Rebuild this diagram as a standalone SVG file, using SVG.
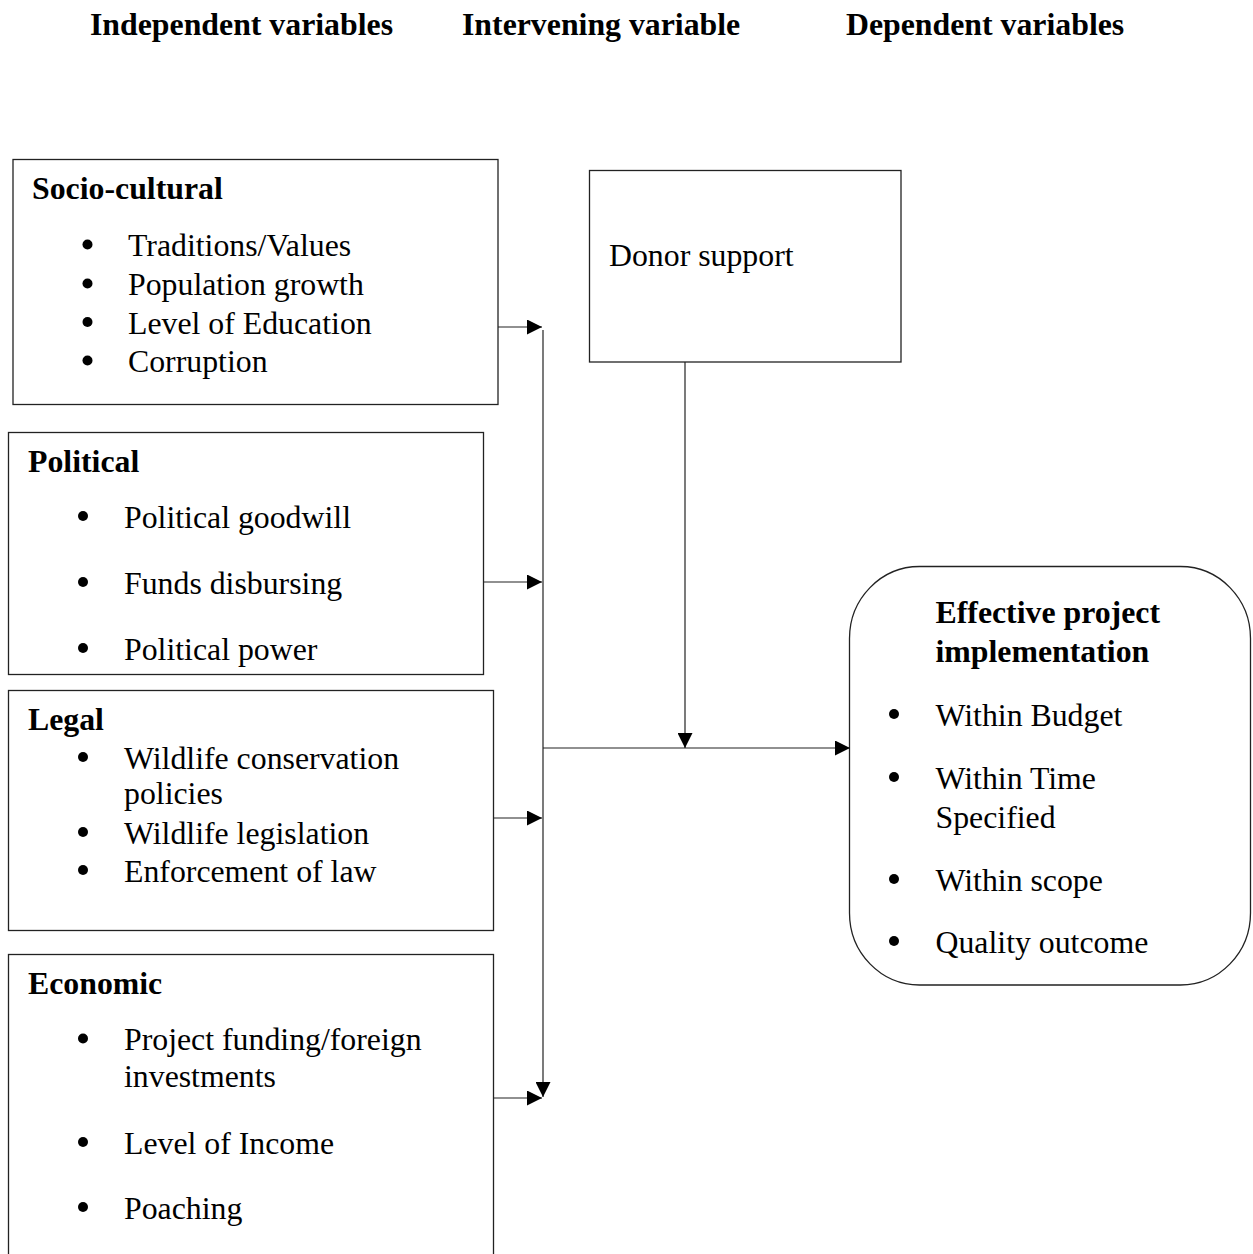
<svg xmlns="http://www.w3.org/2000/svg" width="1253" height="1254" viewBox="0 0 1253 1254">
<defs>
<style>
text{font-family:"Liberation Serif","Times New Roman",serif;font-size:31.8px;fill:#000}
.b{font-weight:bold}
.box{fill:#fff;stroke:#222;stroke-width:1.3}
.ln{fill:none;stroke:#222;stroke-width:1.2}
.dot{fill:#000}
</style>
<marker id="ah" viewBox="0 0 15 15" refX="15" refY="7.5" markerWidth="15" markerHeight="15" markerUnits="userSpaceOnUse" orient="auto">
<path d="M0,0 L15,7.5 L0,15 z" fill="#000"/>
</marker>
</defs>
<rect width="1253" height="1254" fill="#fff"/>
<g id="headers">
<text class="b" x="90" y="35">Independent variables</text>
<text class="b" x="462" y="35">Intervening variable</text>
<text class="b" x="846" y="35">Dependent variables</text>
</g>
<g id="socio-cultural">
<rect class="box" x="13" y="159.5" width="485" height="245"/>
<text class="b" x="32" y="199">Socio-cultural</text>
<circle class="dot" cx="87.5" cy="244.5" r="5"/>
<text x="128" y="256">Traditions/Values</text>
<circle class="dot" cx="87.5" cy="283.5" r="5"/>
<text x="128" y="295">Population growth</text>
<circle class="dot" cx="87.5" cy="322" r="5"/>
<text x="128" y="333.5">Level of Education</text>
<circle class="dot" cx="87.5" cy="360.5" r="5"/>
<text x="128" y="372">Corruption</text>
</g>
<g id="political">
<rect class="box" x="8.5" y="432.5" width="475" height="242"/>
<text class="b" x="28" y="471.5">Political</text>
<circle class="dot" cx="83" cy="516" r="5"/>
<text x="124" y="527.5">Political goodwill</text>
<circle class="dot" cx="83" cy="582" r="5"/>
<text x="124" y="593.5">Funds disbursing</text>
<circle class="dot" cx="83" cy="648" r="5"/>
<text x="124" y="659.5">Political power</text>
</g>
<g id="legal">
<rect class="box" x="8.5" y="690.5" width="485" height="240"/>
<text class="b" x="28" y="730">Legal</text>
<circle class="dot" cx="83" cy="757" r="5"/>
<text x="124" y="768.5">Wildlife conservation</text>
<text x="124" y="803.5">policies</text>
<circle class="dot" cx="83" cy="832" r="5"/>
<text x="124" y="843.5">Wildlife legislation</text>
<circle class="dot" cx="83" cy="870" r="5"/>
<text x="124" y="882">Enforcement of law</text>
</g>
<g id="economic">
<rect class="box" x="8.5" y="954.5" width="485" height="320"/>
<text class="b" x="28" y="993.5">Economic</text>
<circle class="dot" cx="83" cy="1038.5" r="5"/>
<text x="124" y="1050">Project funding/foreign</text>
<text x="124" y="1087">investments</text>
<circle class="dot" cx="83" cy="1142" r="5"/>
<text x="124" y="1153.5">Level of Income</text>
<circle class="dot" cx="83" cy="1207" r="5"/>
<text x="124" y="1218.5">Poaching</text>
</g>
<g id="donor-support">
<rect class="box" x="589.5" y="170.5" width="311.5" height="191.5"/>
<text x="609" y="266">Donor support</text>
</g>
<g id="effective-project-implementation">
<rect class="box" x="849.5" y="566.5" width="401" height="418.5" rx="70" ry="72"/>
<text class="b" x="935.5" y="622.5">Effective project</text>
<text class="b" x="935.5" y="661.5">implementation</text>
<circle class="dot" cx="894" cy="714" r="5"/>
<text x="935.5" y="725.5">Within Budget</text>
<circle class="dot" cx="894" cy="777" r="5"/>
<text x="935.5" y="788.5">Within Time</text>
<text x="935.5" y="827.5">Specified</text>
<circle class="dot" cx="894" cy="879" r="5"/>
<text x="935.5" y="890.5">Within scope</text>
<circle class="dot" cx="894" cy="941" r="5"/>
<text x="935.5" y="952.5">Quality outcome</text>
</g>
<g id="connectors">
<path class="ln" d="M498,327 H542" marker-end="url(#ah)"/>
<path class="ln" d="M483,582 H542" marker-end="url(#ah)"/>
<path class="ln" d="M493,818 H542" marker-end="url(#ah)"/>
<path class="ln" d="M493,1098 H542" marker-end="url(#ah)"/>
<path class="ln" d="M543,330 V1097" marker-end="url(#ah)"/>
<path class="ln" d="M543,748 H850" marker-end="url(#ah)"/>
<path class="ln" d="M685,362 V748" marker-end="url(#ah)"/>
</g>
</svg>
